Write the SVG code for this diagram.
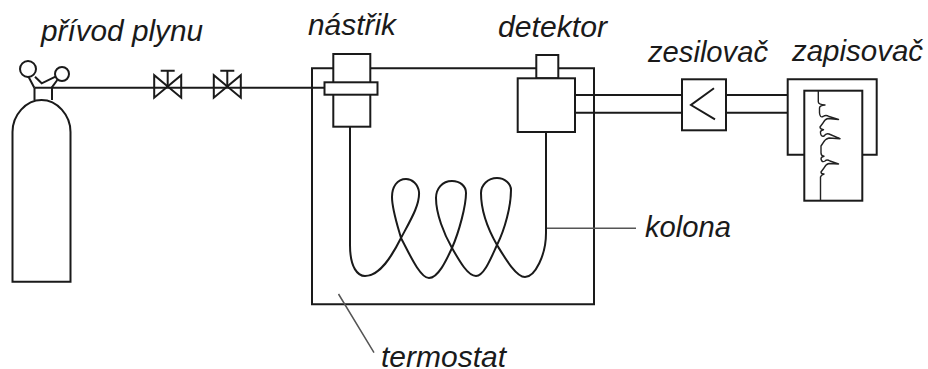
<svg xmlns="http://www.w3.org/2000/svg" width="928" height="369" viewBox="0 0 928 369">
<style>
.s{fill:none;stroke:#1a1a1a;stroke-width:2;stroke-linejoin:miter}
.w{fill:#fff;stroke:#1a1a1a;stroke-width:2}
.t{fill:none;stroke:#222;stroke-width:1.4;stroke-linejoin:round}
.l{fill:none;stroke:#555;stroke-width:1.5}
text{font-family:"Liberation Sans",Arial,sans-serif;font-style:italic;font-size:29.500px;fill:#1a1a1a}
</style>
<defs>
<g id="valve"><path class="s" d="M-13.500-12.500V10L13.500-12.500V10Z"/><path class="s" d="M0-1V-17M-7-17H7"/></g>
</defs>
<rect width="928" height="369" fill="#fff"/>
<g id="connectors">
<path class="s" d="M34.500 87.700H325"/>
<path class="s" d="M333 68.300H312V304.300H594V68.300H558M370 68.300H537"/>
<path class="s" d="M575 95H682M575 112.700H682M726 95H788M726 112.700H788"/>
<path class="s" d="M350 126.700V245C350 268 358 276 365 276C380 276 392 256 401 238C410 221 420 205 419 192C418 184 412 179 406 179C397 179 392 187 392 197C392 209 397 224 401 238C409 253 420 278 429 278C438 278 446 261 452 248C459 232 466 206 466 193C466 186 460 181 452 181C442 181 436 189 436 198C436 214 444 234 452 248C460 262 468 276 476 276C484 276 491 258 497 245C505 229 511 206 511 190C511 184 505 178 497 178C488 178 481 185 481 193C481 212 489 231 497 245C505 258 516 277 525 277C535 277 546 255 546 233V132"/>
<path class="l" d="M547 228.300H636M338.500 294L374 352.700"/>
</g>
<g id="lahev">
<path class="s" d="M12.500 281.700H70.500V132C70.500 115 57 100 41.500 100C26 100 12.500 115 12.500 132Z"/>
<path class="s" d="M34.500 100V87.700M52 87.700V100"/>
<circle class="s" cx="28" cy="69" r="8"/><circle class="s" cx="62" cy="74" r="7"/>
<path class="s" d="M34.300 87.700L28.500 76.700M35 76.700L41.700 83.300L55.500 76.700M51.700 87.700L57.300 80"/>
</g>
<use id="ventil1" href="#valve" x="167.700" y="87.700"/>
<use id="ventil2" href="#valve" x="227.300" y="87.700"/>
<g id="nastrik">
<rect class="w" x="333.300" y="54" width="37" height="72.700"/>
<rect class="w" x="324.500" y="82.300" width="53" height="12.400"/>
</g>
<g id="detektor">
<rect class="w" x="536.300" y="55" width="22" height="23.300"/>
<rect class="w" x="517.700" y="78.300" width="57.300" height="53.700"/>
</g>
<g id="zesilovac">
<rect class="w" x="682" y="79.300" width="44" height="51"/>
<path class="s" d="M714 88.300L691 105L715 119.300"/>
</g>
<g id="zapisovac">
<path class="s" d="M804.300 154.700H787.700V79.300H876.700V154.700H862.300"/>
<rect class="w" x="804.300" y="90.700" width="58" height="110"/>
<path class="t" d="M818.300 91V102Q818.500 104.500 825 105Q819.500 105.500 819.500 108V113Q820 118 823 116.500Q826 114.500 829 116.500L838.500 119.500L828 118.500Q825 119 823 123L820 127Q820 129 823.500 129.800Q820 130.500 820.500 133Q821 137 824 136Q826 133 829 134L840 138.700L829 138Q825 139 823 143L821 146V153Q821 156 824 156.300Q821 157 821 159Q822 163 825 161Q827 159 830 161L838.500 164L829 163.500Q826 164 824 168L821 172Q821 174 824 174Q821 175 820.500 177V200"/>
</g>
<g id="popisky">
<text x="41" y="41" textLength="162" lengthAdjust="spacingAndGlyphs">přívod plynu</text>
<text x="308" y="35" textLength="88" lengthAdjust="spacingAndGlyphs">nástřik</text>
<text x="498" y="37" textLength="109" lengthAdjust="spacingAndGlyphs">detektor</text>
<text x="648" y="62" textLength="120" lengthAdjust="spacingAndGlyphs">zesilovač</text>
<text x="792" y="61" textLength="131" lengthAdjust="spacingAndGlyphs">zapisovač</text>
<text x="645" y="237" textLength="86" lengthAdjust="spacingAndGlyphs">kolona</text>
<text x="381" y="366.700" textLength="125" lengthAdjust="spacingAndGlyphs">termostat</text>
</g>
</svg>
